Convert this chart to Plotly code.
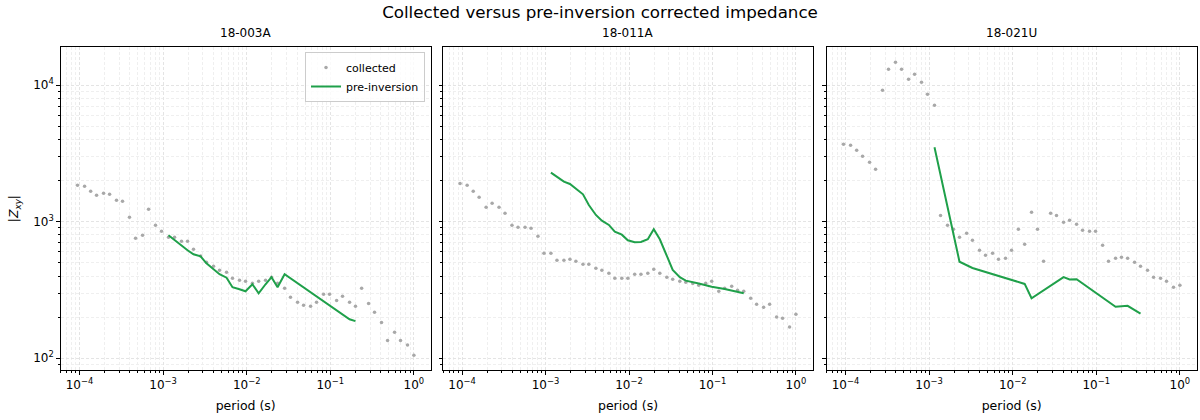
import plotly.graph_objects as go

# ---------------- data ----------------
periods = [9.46e-5, 1.15e-4, 1.36e-4, 1.60e-4, 1.94e-4, 2.29e-4, 2.77e-4, 3.27e-4, 3.96e-4, 4.68e-4,
           5.68e-4, 6.70e-4, 8.11e-4, 9.57e-4, 1.16e-3, 1.37e-3, 1.66e-3, 1.96e-3, 2.31e-3, 2.81e-3,
           3.30e-3, 4.01e-3, 4.73e-3, 5.74e-3, 6.76e-3, 8.20e-3, 9.68e-3, 1.17e-2, 1.39e-2, 1.68e-2,
           1.98e-2, 2.34e-2, 2.84e-2, 3.34e-2, 4.06e-2, 4.79e-2, 5.81e-2, 6.85e-2, 8.30e-2, 9.79e-2,
           0.119, 0.140, 0.170, 0.200, 0.237, 0.287, 0.338, 0.410, 0.484, 0.587,
           0.692, 0.839, 1.0]

stations = ["18-003A", "18-011A", "18-021U"]

collected_003A = [1846, 1815, 1668, 1560, 1612, 1585, 1433, 1409, 1077, 755,
                  794, 1231, 940, 849, 767, 767, 718, 718, 628, 561,
                  504, 471, 441, 426, 385, 372, 366, 354, 366, 372,
                  392, 354, 325, 279, 257, 244, 240, 257, 294, 294,
                  265, 284, 257, 240, 325, 252, 217, 183, 135, 155,
                  135, 125, 105]
collected_011A = [1905, 1844, 1668, 1507, 1273, 1361, 1273, 1150, 940, 910,
                  910, 894, 781, 587, 587, 521, 521, 530, 513, 488,
                  488, 456, 441, 419, 385, 385, 385, 412, 412, 419,
                  448, 419, 392, 379, 366, 360, 352, 342, 354, 366,
                  309, 325, 336, 315, 309, 275, 248, 236, 248, 200,
                  196, 169, 210]
collected_021U = [3681, 3622, 3329, 3008, 2717, 2415, 9141, 13020, 14650, 13020,
                  11000, 11970, 10460, 8545, 7100, 1111, 940, 879, 767, 822,
                  730, 617, 567, 587, 530, 539, 617, 879, 682, 1169,
                  879, 513, 1150, 1111, 988, 1023, 956, 864, 849, 849,
                  672, 513, 539, 548, 539, 504, 471, 441, 392, 385,
                  366, 331, 342]

pre_period_003A = [1.16e-3, 1.37e-3, 1.66e-3, 1.96e-3, 2.31e-3, 2.81e-3, 3.30e-3, 4.01e-3, 4.73e-3, 5.74e-3,
                   6.76e-3, 8.20e-3, 9.68e-3, 1.17e-2, 1.39e-2, 1.68e-2, 1.98e-2, 2.34e-2, 2.84e-2, 0.170, 0.200]
pre_003A = [794, 730, 660, 617, 577, 557, 495, 448, 412, 389,
            331, 320, 309, 348, 299, 348, 392, 331, 412, 193, 187]

pre_period_011A = [1.16e-3, 1.37e-3, 1.66e-3, 1.96e-3, 2.31e-3, 2.81e-3, 3.30e-3, 4.01e-3, 4.73e-3, 5.74e-3,
                   6.76e-3, 8.20e-3, 9.68e-3, 1.17e-2, 1.39e-2, 1.68e-2, 1.98e-2, 2.34e-2, 2.84e-2, 3.34e-2,
                   4.06e-2, 4.79e-2, 6.85e-2, 9.79e-2, 0.140, 0.237]
pre_011A = [2286, 2133, 1962, 1887, 1735, 1585, 1324, 1119, 1017, 946,
            846, 803, 730, 706, 710, 743, 879, 743, 561, 443,
            392, 370, 352, 334, 321, 299]

pre_period_021U = [1.16e-3, 2.31e-3, 3.30e-3, 1.39e-2, 1.68e-2, 4.06e-2, 4.79e-2, 5.81e-2, 0.170, 0.237, 0.338]
pre_021U = [3500, 509, 458, 350, 275, 392, 377, 379, 238, 242, 212]

collected = [collected_003A, collected_011A, collected_021U]
pre_x = [pre_period_003A, pre_period_011A, pre_period_021U]
pre_y = [pre_003A, pre_011A, pre_021U]

x_tickvals = [1e-4, 1e-3, 1e-2, 1e-1, 1e0]
x_ticktext = ["10<sup>\u22124</sup>", "10<sup>\u22123</sup>", "10<sup>\u22122</sup>",
              "10<sup>\u22121</sup>", "10<sup>0</sup>"]
y_tickvals = [1e2, 1e3, 1e4]
y_ticktext = ["10<sup>2</sup>", "10<sup>3</sup>", "10<sup>4</sup>"]

# ---------------- styling ----------------
FONT = "DejaVu Sans"
GRAY = "#a8a8a8"
GREEN = "#1fa04a"
W, H = 1200, 420

minor_vals = [d * 10 ** e for e in range(-6, 6) for d in range(2, 10)]

x_px = [(60.7, 430.7), (443.3, 812.7), (826.7, 1196.7)]
y_dom = [1 - 370 / H, 1 - 47.3 / H]

fig = go.Figure()

for i in range(3):
    xa = "x" if i == 0 else f"x{i+1}"
    ya = "y" if i == 0 else f"y{i+1}"
    fig.add_trace(go.Scatter(
        x=periods, y=collected[i], mode="markers",
        marker=dict(color=GRAY, size=3.5, line=dict(width=0)),
        name="collected", showlegend=(i == 0), xaxis=xa, yaxis=ya,
    ))
    fig.add_trace(go.Scatter(
        x=pre_x[i], y=pre_y[i], mode="lines",
        line=dict(color=GREEN, width=2),
        name="pre-inversion", showlegend=(i == 0), xaxis=xa, yaxis=ya,
    ))

common_axis = dict(
    type="log",
    showline=True, linecolor="black", linewidth=1, mirror=True,
    ticks="outside", ticklen=3.5, tickwidth=0.8, tickcolor="black",
    showgrid=True, gridcolor="#e4e4e4", gridwidth=0.8, griddash="3px,2px",
    zeroline=False,
    minor=dict(tickvals=minor_vals, ticks="outside", ticklen=2, tickwidth=0.6,
               tickcolor="black", showgrid=True, gridcolor="#efefef",
               gridwidth=0.6, griddash="3px,2px"),
    tickfont=dict(family=FONT, size=12, color="black"),
)

layout = dict(
    width=W, height=H,
    margin=dict(l=0, r=0, t=0, b=0),
    paper_bgcolor="white", plot_bgcolor="white",
    font=dict(family=FONT, color="black"),
    showlegend=True,
    legend=dict(x=425 / W, y=1 - 52 / H, xanchor="right", yanchor="top",
                bgcolor="rgba(255,255,255,0.8)", bordercolor="#cccccc", borderwidth=1,
                font=dict(family=FONT, size=11), tracegroupgap=0, itemwidth=30),
    title=dict(text="Collected versus pre-inversion corrected impedance",
               x=0.5, xanchor="center", y=1 - 12 / H, yanchor="middle",
               font=dict(family=FONT, size=16.7, color="black")),
)

annotations = []
for i in range(3):
    x0, x1 = x_px[i]
    key = "xaxis" if i == 0 else f"xaxis{i+1}"
    ykey = "yaxis" if i == 0 else f"yaxis{i+1}"
    layout[key] = dict(common_axis, domain=[x0 / W, x1 / W], range=[-4.225, 0.201],
                       tickvals=x_tickvals, ticktext=x_ticktext,
                       anchor="y" if i == 0 else f"y{i+1}",
                       title=dict(text="period (s)", font=dict(family=FONT, size=12.5),
                                  standoff=10))
    yax = dict(common_axis, domain=y_dom, range=[1.914, 4.276],
               tickvals=y_tickvals, ticktext=y_ticktext,
               anchor="x" if i == 0 else f"x{i+1}")
    if i == 0:
        yax["title"] = dict(text="|<i>Z</i><sub><i>xy</i></sub>|",
                            font=dict(family=FONT, size=12.5), standoff=11)
    else:
        yax["showticklabels"] = False
        yax["matches"] = "y"
    layout[ykey] = yax
    annotations.append(dict(text=stations[i], x=(x0 + x1) / 2 / W, y=1 - 33 / H,
                            xref="paper", yref="paper", showarrow=False,
                            xanchor="center", yanchor="middle",
                            font=dict(family=FONT, size=12, color="black")))

layout["annotations"] = annotations
fig.update_layout(**layout)

fig.write_html("out.html")
